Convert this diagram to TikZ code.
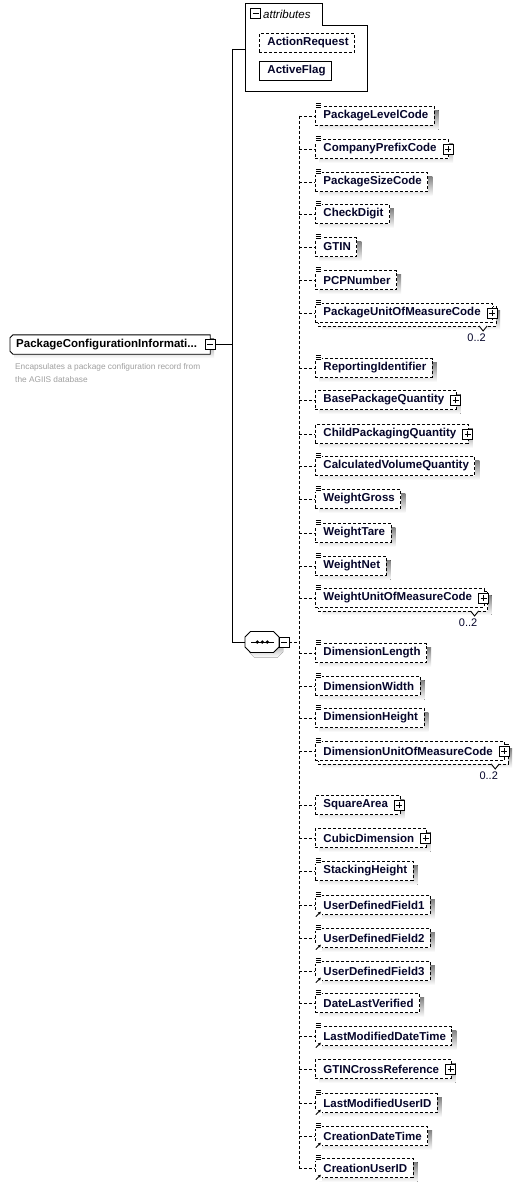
\documentclass[tikz,border=0pt]{standalone}
\usepackage{fontspec}
\setmainfont{Liberation Sans}
\usetikzlibrary{arrows.meta,backgrounds}
\pgfdeclarelayer{shadowl}
\pgfdeclarelayer{backl}
\pgfsetlayers{shadowl,backl,main}
\definecolor{shade}{HTML}{C0C0C0}
\definecolor{etext}{HTML}{05052A}
\definecolor{desc}{HTML}{A0A0A0}
\tikzset{
 dsh/.style={dash pattern=on 3pt off 2pt},
 conn/.style={line width=0.9pt},
 ebox/.style={draw, fill=white, line width=0.9pt, minimum height=19pt, inner xsep=0pt, inner ysep=0pt,
   font=\fontsize{11.5}{13}\selectfont\bfseries, text=etext, anchor=west},
 icon/.style={draw, fill=white, line width=0.8pt, minimum size=10pt, inner sep=0pt},
 plusbox/.style={icon, path picture={\draw[line width=0.8pt]
   ([xshift=-3pt]path picture bounding box.center) -- ([xshift=3pt]path picture bounding box.center)
   ([yshift=-3pt]path picture bounding box.center) -- ([yshift=3pt]path picture bounding box.center);}},
 minusbox/.style={icon, path picture={\draw[line width=0.8pt]
   ([xshift=-3pt]path picture bounding box.center) -- ([xshift=3pt]path picture bounding box.center);}},
 docicon/.style={fill=white, inner sep=0pt, minimum width=7pt, minimum height=6.5pt,
   path picture={\foreach \d in {-2,0,2} \draw[line width=0.7pt]
   ([xshift=-2.7pt,yshift=\d pt]path picture bounding box.center) -- ([xshift=2.7pt,yshift=\d pt]path picture bounding box.center);}},
 reficon/.style={fill=white, inner sep=0pt, minimum size=7pt,
   path picture={\draw[line width=0.8pt,-{Triangle[length=2.6pt,width=2.8pt]}]
   ([shift={(-2.5pt,-2.5pt)}]path picture bounding box.center) -- ([shift={(2.5pt,2.5pt)}]path picture bounding box.center);}},
 mult/.style={font=\fontsize{11}{13}\selectfont, text=etext, inner sep=0pt},
}
\newcommand\Elem[7]{%
 \coordinate (s#1) at (299,#2);
 \ifnum#6=1 \def\rpad{12pt}\else\def\rpad{6pt}\fi
 \node[ebox,dsh] (#1) at (315,#2) {\hspace*{8pt}#3\hspace*{\rpad}};
 \draw[conn,dsh] (s#1) -- (#1.west);
 \ifnum#7=1
   \begin{pgfonlayer}{backl}
   \draw[conn,dsh,fill=white] ([shift={(3pt,-3pt)}]#1.north west) rectangle ([shift={(3pt,-3pt)}]#1.south east);
   \end{pgfonlayer}
   \begin{pgfonlayer}{shadowl}
   \fill[shade] ([shift={(7pt,-7pt)}]#1.north west) rectangle ([shift={(7pt,-7pt)}]#1.south east);
   \end{pgfonlayer}
   \draw[conn, fill=white] ([shift={(-14pt,-3pt)}]#1.south east) -- ++(4,5) -- ++(4,-5);
   \node[mult] (n#1) at ([shift={(-16.5pt,-24.5pt)}]#1.east) {0..2};
 \else
   \begin{pgfonlayer}{shadowl}
   \fill[shade] ([shift={(4pt,-4pt)}]#1.north west) rectangle ([shift={(4pt,-4pt)}]#1.south east);
   \end{pgfonlayer}
 \fi
 \ifnum#4=1 \node[docicon] at ([xshift=3.5pt,yshift=0.5pt]#1.north west) {};\fi
 \ifnum#5=1 \node[reficon] at ([xshift=3.3pt,yshift=0.75pt]#1.south west) {};\fi
 \ifnum#6=1 \node[plusbox] (p#1) at ([xshift=-1pt]#1.east) {};\fi
}
\begin{document}
\begin{tikzpicture}[x=1pt,y=-1pt]
\useasboundingbox (0,0) rectangle (525,1188);
\begin{pgfonlayer}{shadowl}
\fill[white] (0,0) rectangle (525,1188);
\end{pgfonlayer}

% attributes group
\draw[conn, fill=white] (245,3) -- (322,3) -- (322,25) -- (367,25) -- (367,91) -- (245,91) -- cycle;
\coordinate (attrL) at (245,49);
\node[minusbox] (am) at (255.5,13.5) {};
\node[font=\fontsize{11.5}{13}\selectfont\itshape, anchor=west, inner sep=0pt] (attl) at (263,14) {attributes};
\node[ebox,dsh] (ar) at (259,43) {\hspace*{8pt}ActionRequest\hspace*{6pt}};
\node[ebox] (af) at (259,70.5) {\hspace*{8pt}ActiveFlag\hspace*{6pt}};
\begin{pgfonlayer}{shadowl}
\fill[shade] ([shift={(4pt,-4pt)}]ar.north west) rectangle ([shift={(4pt,-4pt)}]ar.south east);
\fill[shade] ([shift={(4pt,-4pt)}]af.north west) rectangle ([shift={(4pt,-4pt)}]af.south east);
\end{pgfonlayer}

% root element
\node[anchor=west, minimum height=19pt, inner xsep=0pt, inner ysep=0pt,
  font=\fontsize{11.5}{13}\selectfont\bfseries] (root) at (10,344.5)
  {\hspace*{6pt}PackageConfigurationInformati...\hspace*{13pt}};
\begin{pgfonlayer}{backl}
\draw[conn, fill=white] ([xshift=3pt]root.north west) -- (root.north east) -- (root.south east)
  -- ([xshift=3pt]root.south west) -- ([yshift=3pt]root.south west) -- ([yshift=-3pt]root.north west) -- cycle;
\end{pgfonlayer}
\begin{pgfonlayer}{shadowl}
\fill[shade] ([shift={(4pt,-4pt)}]root.north west) rectangle ([shift={(4pt,-4pt)}]root.south east);
\end{pgfonlayer}
\node[minusbox] (rm) at (root.east) {};
\node[anchor=north west, font=\fontsize{8.3}{13}\selectfont, text=desc, align=left, inner sep=0pt] (desc) at (15,363)
  {Encapsulates a package configuration record from\\the AGIIS database};

% sequence compositor
\begin{pgfonlayer}{shadowl}
\fill[shade] (249,642) -- (254.5,636.5) -- (277.5,636.5) -- (283,642) -- (283,652) -- (277.5,657.5) -- (254.5,657.5) -- (249,652) -- cycle;
\end{pgfonlayer}
\draw[conn, fill=white] (245,637) -- (250.5,631.5) -- (273.5,631.5) -- (279,637) -- (279,647) -- (273.5,652.5) -- (250.5,652.5) -- (245,647) -- cycle;
\node[minimum width=34pt, minimum height=21pt, inner sep=0pt] (seq) at (262,642) {};
\draw[conn] (251,642) -- (274,642);
\fill (257.3,642) circle (1.8) (262.3,642) circle (1.8) (267.3,642) circle (1.8);
\node[minusbox] (sm) at (284,642) {};
\coordinate (sq) at (299,642);
\draw[conn,dsh] (sm.east) -- (sq);

% main connectors
\coordinate (m1) at (232,49);
\coordinate (m2) at (232,642);
\draw[conn] (rm.east) -- (rm.east -| m1);
\draw[conn] (m1) -- (m2);
\draw[conn] (m1) -- (attrL);
\draw[conn] (m2) -- (seq.west);

% elements
\Elem{e1}{116}{PackageLevelCode}{1}{0}{0}{0}
\Elem{e2}{149}{CompanyPrefixCode}{1}{0}{1}{0}
\Elem{e3}{182}{PackageSizeCode}{1}{0}{0}{0}
\Elem{e4}{214}{CheckDigit}{1}{0}{0}{0}
\Elem{e5}{247}{GTIN}{1}{0}{0}{0}
\Elem{e6}{280}{PCPNumber}{1}{0}{0}{0}
\Elem{e7}{313}{PackageUnitOfMeasureCode}{1}{0}{1}{1}
\Elem{e8}{368}{ReportingIdentifier}{1}{0}{0}{0}
\Elem{e9}{400}{BasePackageQuantity}{0}{0}{1}{0}
\Elem{e10}{434}{ChildPackagingQuantity}{0}{0}{1}{0}
\Elem{e11}{466}{CalculatedVolumeQuantity}{1}{0}{0}{0}
\Elem{e12}{499}{WeightGross}{1}{0}{0}{0}
\Elem{e13}{533}{WeightTare}{1}{0}{0}{0}
\Elem{e14}{566}{WeightNet}{1}{0}{0}{0}
\Elem{e15}{598}{WeightUnitOfMeasureCode}{1}{0}{1}{1}
\Elem{e16}{653}{DimensionLength}{1}{0}{0}{0}
\Elem{e17}{686}{DimensionWidth}{1}{0}{0}{0}
\Elem{e18}{718}{DimensionHeight}{1}{0}{0}{0}
\Elem{e19}{751}{DimensionUnitOfMeasureCode}{1}{0}{1}{1}
\Elem{e20}{805}{SquareArea}{0}{0}{1}{0}
\Elem{e21}{838}{CubicDimension}{0}{0}{1}{0}
\Elem{e22}{871}{StackingHeight}{1}{0}{0}{0}
\Elem{e23}{905}{UserDefinedField1}{1}{1}{0}{0}
\Elem{e24}{938}{UserDefinedField2}{1}{1}{0}{0}
\Elem{e25}{971}{UserDefinedField3}{1}{1}{0}{0}
\Elem{e26}{1003}{DateLastVerified}{1}{0}{0}{0}
\Elem{e27}{1036}{LastModifiedDateTime}{1}{1}{0}{0}
\Elem{e28}{1069}{GTINCrossReference}{0}{0}{1}{0}
\Elem{e29}{1103}{LastModifiedUserID}{1}{1}{0}{0}
\Elem{e30}{1136}{CreationDateTime}{1}{1}{0}{0}
\Elem{e31}{1168}{CreationUserID}{1}{1}{0}{0}
\draw[conn,dsh] (se1) -- (se31);
\end{tikzpicture}
\end{document}
